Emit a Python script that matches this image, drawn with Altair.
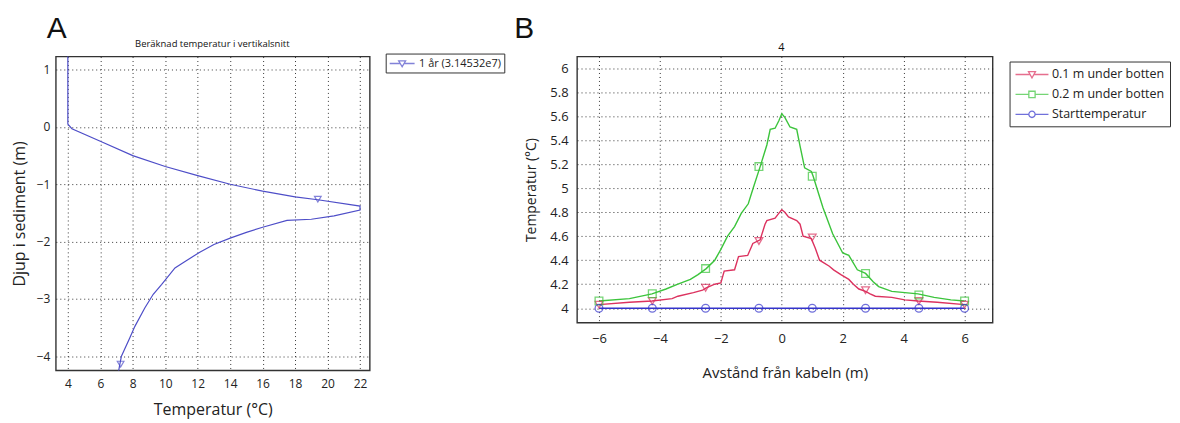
import altair as alt
import pandas as pd

# ---------------- Panel A data ----------------
a_temp = [4.0, 4.0, 4.25, 6.0, 8.0, 10.0, 12.0, 14.0, 16.0, 18.0, 19.4, 22.0, 22.0,
          20.4, 19.0, 17.5, 16.0, 15.0, 14.0, 13.0, 12.1, 11.1, 10.6, 9.77, 9.26,
          8.74, 8.13, 7.82, 7.3, 7.2, 7.1]
a_depth = [1.35, 0.05, -0.03, -0.25, -0.5, -0.69, -0.85, -1.0, -1.12, -1.22, -1.27,
           -1.38, -1.45, -1.55, -1.61, -1.63, -1.75, -1.84, -1.94, -2.05, -2.19,
           -2.37, -2.46, -2.75, -2.92, -3.16, -3.48, -3.68, -4.0, -4.15, -4.3]
a_mark_temp = [19.4, 7.25]
a_mark_depth = [-1.26, -4.14]
a_series = "1 år (3.14532e7)"
a_title = "Beräknad temperatur i vertikalsnitt"
a_xticks = [4, 6, 8, 10, 12, 14, 16, 18, 20, 22]
a_yticks = [-4, -3, -2, -1, 0, 1]

# ---------------- Panel B data ----------------
b_series = ["0.1 m under botten", "0.2 m under botten", "Starttemperatur"]
b_title = "4"
red_x = [-6, -5.0, -4.26, -3.6, -3.41, -2.9, -2.6, -2.48, -2.2, -2.0, -1.89, -1.55,
         -1.42, -1.12, -0.95, -0.71, -0.55, -0.49, -0.22, -0.1, 0, 0.1, 0.22, 0.49,
         0.6, 0.7, 0.97, 1.1, 1.24, 1.56, 1.7, 1.94, 2.2, 2.35, 2.53, 2.75, 2.9,
         3.07, 3.61, 4.04, 4.47, 5.1, 6]
red_y = [4.03, 4.05, 4.06, 4.08, 4.10, 4.13, 4.15, 4.17, 4.20, 4.21, 4.31, 4.32,
         4.43, 4.44, 4.54, 4.57, 4.70, 4.73, 4.75, 4.79, 4.82, 4.80, 4.76, 4.73,
         4.70, 4.60, 4.58, 4.50, 4.40, 4.35, 4.32, 4.28, 4.24, 4.20, 4.16, 4.14,
         4.12, 4.10, 4.09, 4.07, 4.06, 4.05, 4.03]
green_x = [-6, -5.0, -4.26, -3.8, -3.41, -3.0, -2.75, -2.48, -2.2, -2.0, -1.78, -1.55,
           -1.33, -1.1, -0.94, -0.71, -0.49, -0.38, -0.22, -0.1, 0, 0.1, 0.27, 0.49,
           0.6, 0.75, 0.97, 1.03, 1.35, 1.67, 2.0, 2.2, 2.48, 2.75, 3.0, 3.18, 3.61,
           4.04, 4.47, 5.0, 5.55, 6]
green_y = [4.06, 4.08, 4.12, 4.16, 4.20, 4.24, 4.28, 4.33, 4.40, 4.49, 4.60, 4.68,
           4.79, 4.87, 5.00, 5.18, 5.36, 5.49, 5.50, 5.56, 5.62, 5.59, 5.51, 5.49,
           5.35, 5.17, 5.14, 5.10, 4.84, 4.62, 4.46, 4.44, 4.32, 4.29, 4.22, 4.18,
           4.14, 4.13, 4.12, 4.09, 4.07, 4.06]
blue_x = [-6, 6]
blue_y = [4.0, 4.0]
mark_x = [-6, -4.25, -2.5, -0.75, 1.0, 2.75, 4.5, 6]
red_mark_y = [4.03, 4.06, 4.17, 4.56, 4.59, 4.15, 4.06, 4.03]
green_mark_y = [4.06, 4.12, 4.33, 5.18, 5.10, 4.29, 4.11, 4.06]
blue_mark_y = [4.0, 4.0, 4.0, 4.0, 4.0, 4.0, 4.0, 4.0]
b_xticks = [-6, -4, -2, 0, 2, 4, 6]
b_yticks = [4, 4.2, 4.4, 4.6, 4.8, 5, 5.2, 5.4, 5.6, 5.8, 6]

b_colors = ["#dc325f", "#3cc43c", "#3434cc"]
b_shapes = ["triangle-down", "square", "circle"]
a_color = "#4e4ec8"

# legend symbols: line with hollow marker in the middle (unit = half symbol size)
A_TRI = "M-2.08,0H-0.3M0.3,0H2.08M-0.58,-0.45L0.58,-0.45L0,0.55Z"
B_TRI = "M-2.36,0H-0.25M0.25,0H2.36M-0.5,-0.4L0.5,-0.4L0,0.5Z"
B_SQ = "M-2.36,0H-0.45M0.45,0H2.36M-0.45,-0.45H0.45V0.45H-0.45Z"
B_CI = "M-2.36,0H-0.45M0.45,0H2.36M-0.45,0a0.45,0.45 0 1,0 0.9,0a0.45,0.45 0 1,0 -0.9,0"

FONT = "Open Sans"

legend_common = dict(
    title=None, orient="none", strokeColor="#333", cornerRadius=0,
    fillColor="white", labelFont=FONT, labelColor="#222",
    symbolStrokeWidth=1.3, symbolFillColor="transparent",
)
legA_props = dict(legendX=331, legendY=-3, padding=3, labelFontSize=11,
                  symbolSize=144, symbolOffset=6.5, labelOffset=10, **legend_common)
legB_props = dict(legendX=434, legendY=5, padding=5, labelFontSize=12.5,
                  symbolSize=196, symbolOffset=9.5, labelOffset=12, rowPadding=5,
                  **legend_common)

def grid_axis(values, title, **kw):
    return alt.Axis(values=values, title=title, format="~g", grid=True,
                    gridColor="#222", gridDash=[1, 3], gridWidth=1, gridOpacity=0.9,
                    domain=False, ticks=False, labelFont=FONT, labelColor="#222",
                    titleFont=FONT, titleFontWeight="normal", titleColor="#222", **kw)

def text_layer(txt, size, x, y, align="left", font=FONT):
    return alt.Chart(pd.DataFrame({"t": [txt]})).mark_text(
        font=font, fontSize=size, align=align, baseline="alphabetic", color="#111").encode(
        text="t:N", x=alt.value(x), y=alt.value(y))

# ---------------- Panel A ----------------
dfA = pd.DataFrame({"temp": a_temp, "depth": a_depth,
                    "idx": list(range(len(a_temp))), "serie": a_series})
dfAm = pd.DataFrame({"temp": a_mark_temp, "depth": a_mark_depth, "serie": a_series})

xA = alt.X("temp:Q", scale=alt.Scale(domain=[3.26, 22.6], nice=False, zero=False),
           axis=grid_axis(a_xticks, "Temperatur (°C)", labelFontSize=12,
                          labelPadding=8, titleFontSize=16, titlePadding=12))
yA = alt.Y("depth:Q", scale=alt.Scale(domain=[-4.25, 1.23], nice=False, zero=False),
           axis=grid_axis(a_yticks, "Djup i sediment (m)", labelFontSize=12,
                          labelPadding=6, titleFontSize=16, titlePadding=9))

lineA = alt.Chart(dfA).mark_line(clip=True, strokeWidth=1.2, color=a_color).encode(
    x=xA, y=yA, order="idx:Q")
ptsA = alt.Chart(dfAm).mark_point(shape="triangle-down", filled=False, size=45,
                                  strokeWidth=1.2, clip=True, color=a_color).encode(
    x=xA, y=yA)
legA = alt.Chart(dfAm).transform_filter("false").mark_point(filled=False).encode(
    x=xA, y=yA,
    color=alt.Color("serie:N", scale=alt.Scale(domain=[a_series], range=[a_color]),
                    legend=alt.Legend(**legA_props)),
    shape=alt.Shape("serie:N", scale=alt.Scale(domain=[a_series], range=[A_TRI]),
                    legend=alt.Legend(**legA_props)),
)
chartA = alt.layer(
    lineA, ptsA, legA,
    text_layer("A", 30, -9, -19, font="Liberation Sans"),
    text_layer(a_title, 9.5, 157, -10, align="center"),
).properties(width=315, height=315)

# ---------------- Panel B ----------------
marks_df = pd.concat([
    pd.DataFrame({"x": mark_x, "y": red_mark_y, "serie": b_series[0]}),
    pd.DataFrame({"x": mark_x, "y": green_mark_y, "serie": b_series[1]}),
    pd.DataFrame({"x": mark_x, "y": blue_mark_y, "serie": b_series[2]}),
])

xB = alt.X("x:Q", scale=alt.Scale(domain=[-6.72, 6.92], nice=False, zero=False),
           axis=grid_axis(b_xticks, "Avstånd från kabeln (m)", labelFontSize=13,
                          labelPadding=10, titleFontSize=15, titlePadding=20))
yB = alt.Y("y:Q", scale=alt.Scale(domain=[3.88, 6.097], nice=False, zero=False),
           axis=grid_axis(b_yticks, "Temperatur (°C)", labelFontSize=13,
                          labelPadding=9, titleFontSize=14, titlePadding=11))

line_sets = [(red_x, red_y), (green_x, green_y), (blue_x, blue_y)]
linesB = [
    alt.Chart(pd.DataFrame({"x": lx, "y": ly})).mark_line(
        clip=True, strokeWidth=1.4, color=c).encode(x=xB, y=yB)
    for (lx, ly), c in zip(line_sets, b_colors)
]
ptsB = [
    alt.Chart(marks_df[marks_df.serie == s]).mark_point(
        shape=shp, filled=False, size=60, strokeWidth=1.3, clip=True, color=c).encode(x=xB, y=yB)
    for s, shp, c in zip(b_series, b_shapes, b_colors)
]
legB = alt.Chart(marks_df).transform_filter("false").mark_point(filled=False).encode(
    x=xB, y=yB,
    color=alt.Color("serie:N", scale=alt.Scale(domain=b_series, range=b_colors),
                    legend=alt.Legend(**legB_props)),
    shape=alt.Shape("serie:N", scale=alt.Scale(domain=b_series, range=[B_TRI, B_SQ, B_CI]),
                    legend=alt.Legend(**legB_props)),
)
chartB = alt.layer(
    *linesB, *ptsB, legB,
    text_layer("B", 30, -63, -19, font="Liberation Sans"),
    text_layer(b_title, 11, 205, -6, align="center"),
).properties(width=417, height=267)

chart = alt.hconcat(chartA, chartB, spacing=7).resolve_scale(
    color="independent", shape="independent").properties(
    padding={"left": 2, "top": 4, "right": 0, "bottom": 0}).configure_view(
    stroke="#333", strokeWidth=1.4)

chart.save("out.html", embed_options={"renderer": "svg", "actions": False})
